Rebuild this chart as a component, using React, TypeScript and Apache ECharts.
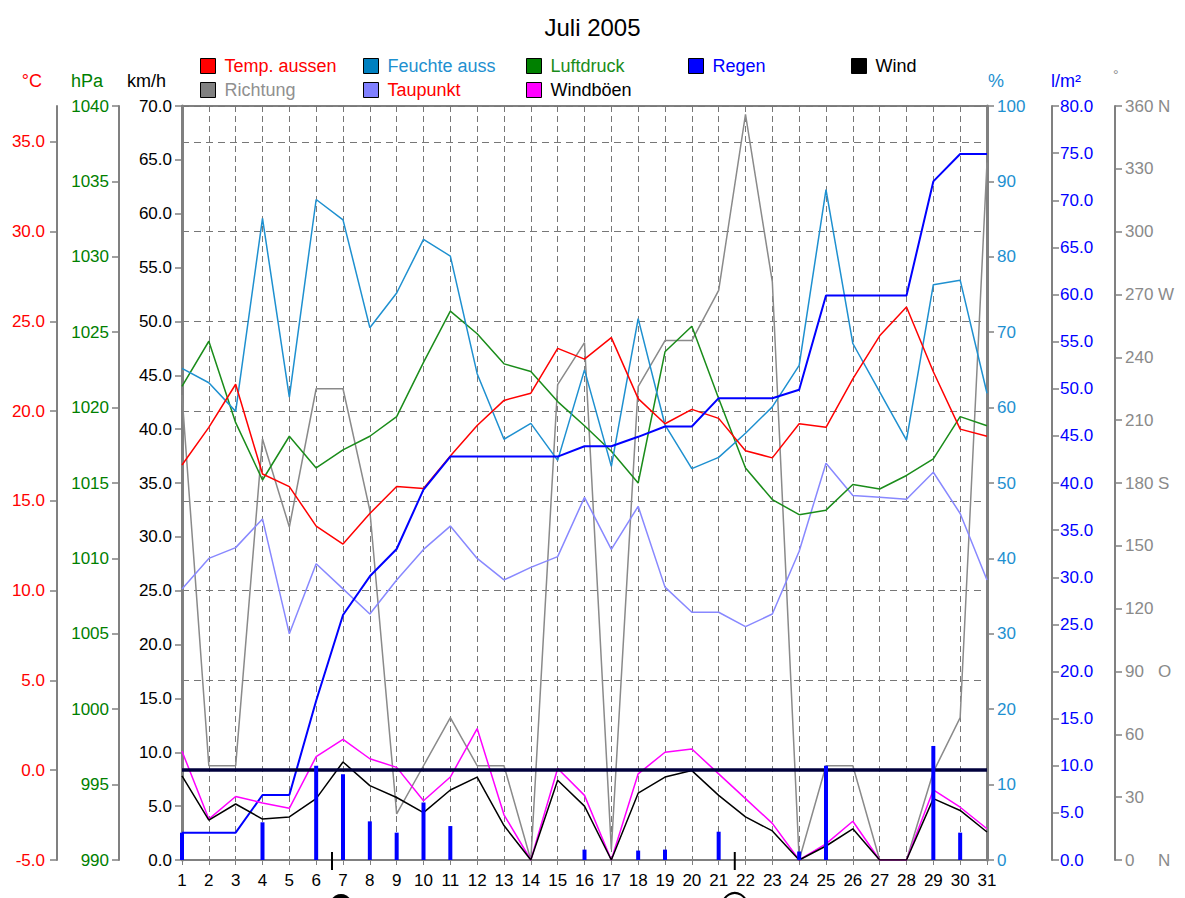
import React, { useEffect, useRef } from 'react';
import * as echarts from 'echarts';

const days = ['1','2','3','4','5','6','7','8','9','10','11','12','13','14','15','16','17','18','19','20','21','22','23','24','25','26','27','28','29','30','31'];

const tempOut = [17.0, 19.1, 21.5, 16.5, 15.8, 13.6, 12.6, 14.3, 15.8, 15.7, 17.5, 19.2, 20.6, 21.0, 23.5, 22.9, 24.1, 20.7, 19.3, 20.1, 19.6, 17.8, 17.4, 19.3, 19.1, 21.8, 24.2, 25.8, 22.2, 19.0, 18.6];
const humidity = [65.2, 63.3, 59.5, 85.1, 61.4, 87.6, 84.9, 70.6, 75.2, 82.3, 80.1, 64.5, 55.8, 57.9, 53.0, 65.0, 52.2, 71.8, 57.7, 51.9, 53.4, 56.6, 60.1, 65.6, 88.9, 68.5, 62.1, 55.7, 76.3, 76.9, 61.9];
const pressure = [1021.4, 1024.4, 1019.0, 1015.2, 1018.1, 1016.0, 1017.2, 1018.1, 1019.4, 1023.0, 1026.4, 1024.9, 1022.9, 1022.4, 1020.4, 1018.8, 1017.1, 1015.0, 1023.7, 1025.4, 1020.6, 1016.0, 1013.9, 1012.9, 1013.2, 1014.9, 1014.6, 1015.5, 1016.6, 1019.4, 1018.8];
const rainTotal = [2.9, 2.9, 2.9, 6.9, 6.9, 16.9, 26.0, 30.1, 33.0, 39.3, 42.8, 42.8, 42.8, 42.8, 42.8, 43.9, 43.9, 44.9, 46.0, 46.0, 49.0, 49.0, 49.0, 49.9, 59.9, 59.9, 59.9, 59.9, 72.0, 74.9, 74.9];
const rainDaily = [2.9, 0, 0, 4.0, 0, 10.0, 9.1, 4.1, 2.9, 6.1, 3.6, 0, 0, 0, 0, 1.1, 0, 1.0, 1.1, 0, 3.0, 0, 0, 0.9, 10.0, 0, 0, 0, 12.1, 2.9, 0];
const wind = [7.8, 3.7, 5.2, 3.8, 4.0, 5.7, 9.1, 6.9, 5.8, 4.4, 6.5, 7.7, 3.2, 0, 7.4, 5.0, 0, 6.2, 7.7, 8.3, 6.0, 4.0, 2.7, 0, 1.3, 2.9, 0, 0, 5.7, 4.6, 2.6];
const gusts = [10.1, 3.8, 5.9, 5.3, 4.8, 9.6, 11.2, 9.4, 8.6, 5.5, 7.7, 12.2, 4.2, 0, 8.5, 6.0, 0, 8.0, 10.0, 10.3, 8.0, 5.7, 3.4, 0, 1.5, 3.6, 0, 0, 6.5, 4.9, 2.9];
const direction = [222, 45, 45, 201, 159, 225, 225, 167, 22, 45, 68, 45, 45, 0, 227, 247, 5, 226, 248, 248, 272, 356, 276, 0, 45, 45, 0, 0, 42, 68, 333];
const dewPoint = [10.1, 11.8, 12.4, 14.0, 7.6, 11.5, 10.1, 8.7, 10.6, 12.3, 13.6, 11.8, 10.6, 11.3, 11.9, 15.2, 12.3, 14.7, 10.2, 8.8, 8.8, 8.0, 8.7, 12.2, 17.1, 15.3, 15.2, 15.1, 16.6, 14.3, 10.6];

const moonDays = [6.59, 21.6];
const moonKinds = ['new', 'full'];
const compassLabels: Record<number, string> = { 0: 'N', 90: 'O', 180: 'S', 270: 'W', 360: 'N' };

const FONT = 'Liberation Sans, Arial, sans-serif';
const C_TEMP = '#ff0000';
const C_HUM = '#1e90d0';
const C_PRESS = '#1a8c1a';
const C_RAIN = '#0000ff';
const C_WIND = '#000000';
const C_DIR = '#8a8a8a';
const C_DEW = '#8888ff';
const C_GUST = '#ff00ff';
const AXIS_GRAY = '#808080';

function legendItem(name: string, icon: string, text: string, left: number, top: number) {
  return {
    show: true,
    left,
    top,
    padding: 0,
    orient: 'horizontal',
    icon: 'rect',
    itemWidth: 15,
    itemHeight: 15,
    selectedMode: false,
    data: [{
      name,
      itemStyle: { color: icon, borderColor: '#000', borderWidth: 1 },
      textStyle: { color: text, fontSize: 18, fontFamily: FONT, padding: [0, 0, 0, 4] },
    }],
  };
}

function yAx(opts: any) {
  const { color, lineWidth = 2, ...rest } = opts;
  return {
    type: 'value',
    axisLine: { show: true, lineStyle: { color: AXIS_GRAY, width: lineWidth } },
    axisTick: { show: true, length: 7, lineStyle: { color: AXIS_GRAY, width: 1.5 } },
    splitLine: { show: false },
    axisLabel: { color, fontSize: 17, fontFamily: FONT, margin: 10 },
    ...rest,
  };
}

export default function App() {
  const ref = useRef<HTMLDivElement>(null);
  useEffect(() => {
    document.body.style.margin = '0';
    if (!ref.current) return;
    const chart = echarts.init(ref.current, undefined, { renderer: 'svg' });
    const lineBase = { type: 'line', symbol: 'none', smooth: false };
    const option: any = {
      animation: false,
      backgroundColor: '#ffffff',
      title: {
        text: 'Juli 2005',
        left: 'center',
        top: 10,
        textStyle: { fontSize: 24, fontWeight: 'normal', color: '#000', fontFamily: FONT },
      },
      legend: [
        legendItem('Temp. aussen', '#ff0000', C_TEMP, 200, 57),
        legendItem('Feuchte auss', '#0080c0', C_HUM, 363, 57),
        legendItem('Luftdruck', '#008000', C_PRESS, 526, 57),
        legendItem('Regen', '#0000ff', C_RAIN, 688, 57),
        legendItem('Wind', '#000000', '#000', 851, 57),
        legendItem('Richtung', '#808080', '#909090', 200, 81),
        legendItem('Taupunkt', '#8080ff', C_TEMP, 363, 81),
        legendItem('Windböen', '#ff00ff', '#000', 526, 81),
      ],
      grid: {
        left: 182, right: 198, top: 106, bottom: 38,
        show: true, borderColor: AXIS_GRAY, borderWidth: 2, backgroundColor: 'transparent',
      },
      xAxis: {
        type: 'category',
        data: days,
        boundaryGap: false,
        axisLine: { show: true, lineStyle: { color: AXIS_GRAY, width: 2 } },
        axisTick: { show: true, length: 5, lineStyle: { color: AXIS_GRAY } },
        axisLabel: { color: '#000', fontSize: 17, fontFamily: FONT, margin: 12, interval: 0 },
        splitLine: { show: true, lineStyle: { color: '#777777', width: 1, type: [6, 4] } },
      },
      yAxis: [
        yAx({ position: 'left', offset: 0, min: 0, max: 70, interval: 5, color: '#000', lineWidth: 3,
          axisLabel: { color: '#000', fontSize: 17, fontFamily: FONT, margin: 10, formatter: (v: number) => v.toFixed(1) } }),
        yAx({ position: 'left', offset: 63, min: 990, max: 1040, interval: 5, color: '#008000',
          axisLabel: { color: '#008000', fontSize: 17, fontFamily: FONT, margin: 10, formatter: (v: number) => String(Math.round(v)) } }),
        yAx({ position: 'left', offset: 125, min: -5, max: 37, interval: 5, color: C_TEMP,
          axisLabel: { color: C_TEMP, fontSize: 17, fontFamily: FONT, margin: 12, showMaxLabel: false,
            formatter: (v: number) => (v > 35.5 ? '' : v.toFixed(1)) },
          splitLine: { show: true, lineStyle: { color: '#777777', width: 1, type: [7, 5] } } }),
        yAx({ position: 'right', offset: 0, min: 0, max: 100, interval: 10, color: C_HUM, lineWidth: 3,
          axisLabel: { color: C_HUM, fontSize: 17, fontFamily: FONT, margin: 10, formatter: (v: number) => String(Math.round(v)) } }),
        yAx({ position: 'right', offset: 65, min: 0, max: 80, interval: 5, color: C_RAIN,
          axisLabel: { color: C_RAIN, fontSize: 17, fontFamily: FONT, margin: 8, formatter: (v: number) => v.toFixed(1) } }),
        yAx({ position: 'right', offset: 128, min: 0, max: 360, interval: 30, color: C_DIR,
          axisLabel: {
            color: C_DIR, fontSize: 17, fontFamily: FONT, margin: 10,
            formatter: (v: number) => `{n|${Math.round(v)}}{c|${compassLabels[Math.round(v)] || ''}}`,
            rich: {
              n: { width: 33, align: 'left', color: C_DIR, fontSize: 17, fontFamily: FONT },
              c: { color: C_DIR, fontSize: 17, fontFamily: FONT },
            },
          } }),
      ],
      graphic: [
        { type: 'text', right: 1185 - 42, top: 72, style: { text: '°C', fill: C_TEMP, font: `18px ${FONT}` } },
        { type: 'text', right: 1185 - 103, top: 72, style: { text: 'hPa', fill: '#008000', font: `18px ${FONT}` } },
        { type: 'text', right: 1185 - 166, top: 72, style: { text: 'km/h', fill: '#000', font: `18px ${FONT}` } },
        { type: 'text', left: 988, top: 72, style: { text: '%', fill: C_HUM, font: `18px ${FONT}` } },
        { type: 'text', left: 1051, top: 72, style: { text: 'l/m²', fill: C_RAIN, font: `18px ${FONT}` } },
        { type: 'text', left: 1113, top: 68, style: { text: '°', fill: C_DIR, font: `14px ${FONT}` } },
      ],
      series: [
        { ...lineBase, name: 'Richtung', yAxisIndex: 5, data: direction, lineStyle: { color: C_DIR, width: 1.5 }, itemStyle: { color: C_DIR }, z: 2 },
        { ...lineBase, name: 'Taupunkt', yAxisIndex: 2, data: dewPoint, lineStyle: { color: C_DEW, width: 1.5 }, itemStyle: { color: C_DEW }, z: 3 },
        { ...lineBase, name: 'Luftdruck', yAxisIndex: 1, data: pressure, lineStyle: { color: C_PRESS, width: 1.5 }, itemStyle: { color: C_PRESS }, z: 3 },
        { ...lineBase, name: 'Feuchte auss', yAxisIndex: 3, data: humidity, lineStyle: { color: C_HUM, width: 1.5 }, itemStyle: { color: C_HUM }, z: 3 },
        {
          ...lineBase, name: 'Temp. aussen', yAxisIndex: 2, data: tempOut, lineStyle: { color: C_TEMP, width: 1.5 }, itemStyle: { color: C_TEMP }, z: 4,
          markLine: {
            silent: true, symbol: 'none', label: { show: false },
            lineStyle: { color: '#00003c', width: 3.5, type: 'solid' },
            data: [{ yAxis: 0 }],
          },
        },
        { ...lineBase, name: 'Regen', yAxisIndex: 4, data: rainTotal, lineStyle: { color: C_RAIN, width: 2 }, itemStyle: { color: C_RAIN }, z: 4 },
        { ...lineBase, name: 'Windböen', yAxisIndex: 0, data: gusts, lineStyle: { color: C_GUST, width: 1.5 }, itemStyle: { color: C_GUST }, z: 4 },
        { ...lineBase, name: 'Wind', yAxisIndex: 0, data: wind, lineStyle: { color: C_WIND, width: 1.5 }, itemStyle: { color: C_WIND }, z: 4 },
        { type: 'bar', name: 'Regen', yAxisIndex: 4, data: rainDaily, barWidth: 4, itemStyle: { color: C_RAIN }, z: 5 },
        {
          type: 'custom', name: 'Mond', yAxisIndex: 0, z: 6, silent: true,
          data: moonDays.map((_, i) => [i, 0]),
          renderItem: (params: any, api: any) => {
            const d = moonDays[params.dataIndex];
            const i0 = Math.floor(d - 1);
            const frac = d - 1 - i0;
            const a = api.coord([i0, 0]);
            const b = api.coord([i0 + 1, 0]);
            const x = a[0] + frac * (b[0] - a[0]);
            const y = a[1];
            const kind = moonKinds[params.dataIndex];
            return {
              type: 'group',
              children: [
                { type: 'line', shape: { x1: x, y1: y - 8, x2: x, y2: y + 10 }, style: { stroke: '#000', lineWidth: 2 } },
                kind === 'new'
                  ? { type: 'circle', shape: { cx: x + 9, cy: y + 45, r: 11 }, style: { fill: '#000' } }
                  : { type: 'circle', shape: { cx: x, cy: y + 45, r: 12 }, style: { fill: 'none', stroke: '#000', lineWidth: 2 } },
              ],
            };
          },
        },
      ],
    };
    chart.setOption(option);
    return () => chart.dispose();
  }, []);
  return <div ref={ref} style={{ width: 1185, height: 898 }} />;
}
